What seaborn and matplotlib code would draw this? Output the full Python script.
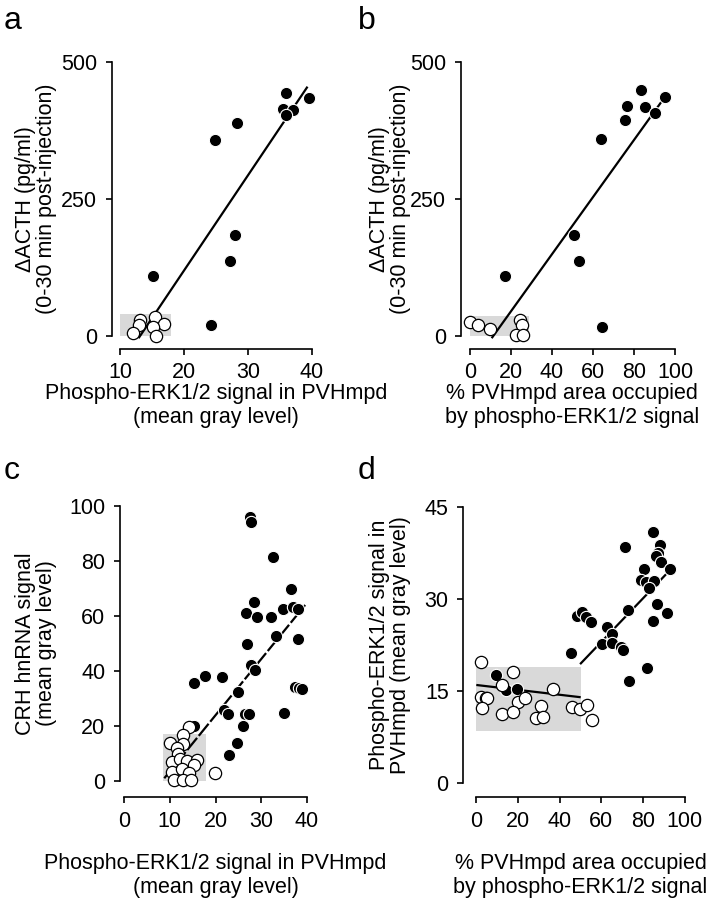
import matplotlib
matplotlib.use("Agg")
import matplotlib.pyplot as plt
from matplotlib.patches import Rectangle
import seaborn as sns

# ---- panel a: dACTH vs phospho-ERK gray level
a_filled_x = [36.0, 39.5, 35.5, 37.1, 35.9, 28.3, 24.9, 28.0, 27.2, 15.1, 24.2]
a_filled_y = [443, 435, 415, 412, 403, 388, 358, 184, 137, 109, 20]
a_open_x = [13.1, 15.4, 13.0, 16.9, 15.2, 12.0, 15.6]
a_open_y = [30, 34, 20, 22, 17, 6, 0]
a_fit_x = [12.9, 39.3]
a_fit_y = [-4, 455]
a_box = (10, 0, 18, 40)  # x0, y0, x1, y1

# ---- panel b: dACTH vs % area
b_filled_x = [83.3, 95.1, 76.5, 85.2, 90.3, 75.6, 63.8, 50.8, 53.2, 17.2, 64.6]
b_filled_y = [449, 437, 420, 417, 407, 394, 360, 184, 137, 109, 17]
b_open_x = [0.0, 4.0, 9.7, 24.5, 25.6, 22.7, 26.1]
b_open_y = [26, 20, 12, 30, 20, 2, 2]
b_fit_x = [10.7, 93.5]
b_fit_y = [-4, 428]
b_box = (0, 0, 29, 37)

# ---- panel c: CRH hnRNA vs phospho-ERK gray level
c_filled_x = [27.5, 27.8, 32.6, 36.4, 28.4, 26.6, 29.1, 32.1, 34.8, 37.0, 38.1,
              33.2, 38.0, 26.8, 27.7, 28.6, 37.4, 38.3, 38.8, 35.0, 25.0, 21.4,
              17.7, 15.2, 21.9, 22.8, 26.4, 27.4, 26.1, 24.6, 22.9, 15.2]
c_filled_y = [95.9, 94.3, 81.6, 69.7, 65.2, 61.2, 59.5, 59.5, 62.4, 63.4, 62.4,
              52.8, 51.8, 50.0, 42.2, 40.4, 34.3, 34.0, 33.3, 24.6, 32.5, 37.9,
              38.2, 35.5, 25.8, 24.5, 24.5, 24.4, 20.0, 13.7, 9.5, 20.0]
c_open_x = [14.1, 13.0, 10.1, 12.8, 11.5, 11.7, 10.4, 12.2, 13.7, 16.0, 15.2,
            10.6, 12.6, 14.1, 10.9, 12.8, 14.6, 19.9]
c_open_y = [19.7, 16.7, 13.7, 13.5, 11.9, 10.0, 7.0, 7.9, 7.4, 7.6, 5.8,
            3.4, 4.2, 2.8, 0.4, 0.4, 0.4, 3.0]
c_fit_x = [8.8, 39.6]
c_fit_y = [1, 64]
c_box = (8.6, 0, 18, 17)

# ---- panel d: phospho-ERK gray level vs % area
d_filled_x = [84.9, 71.2, 88.1, 87.0, 86.2, 88.8, 80.5, 93.0, 78.9, 81.3, 85.3,
              82.9, 86.6, 91.7, 84.8, 72.8, 48.2, 50.9, 52.5, 54.9, 62.9, 65.3,
              60.5, 65.3, 69.3, 70.5, 45.3, 81.8, 73.4, 9.3, 14.1, 19.7]
d_filled_y = [41.0, 38.5, 38.8, 37.5, 37.0, 36.1, 34.9, 34.9, 33.1, 32.8, 33.0,
              31.8, 29.2, 27.8, 26.4, 28.2, 27.2, 27.9, 27.1, 26.3, 25.4, 24.4,
              22.7, 22.8, 22.2, 21.7, 21.2, 18.7, 16.6, 17.6, 15.2, 15.3]
d_open_x = [2.4, 17.5, 12.2, 2.1, 4.5, 5.3, 2.9, 20.2, 23.4, 12.5, 17.8,
            30.9, 28.5, 32.1, 36.9, 46.1, 49.8, 53.3, 55.4]
d_open_y = [19.8, 18.1, 16.0, 14.1, 13.8, 13.8, 12.2, 13.3, 13.8, 11.3, 11.6,
            12.6, 10.6, 10.8, 15.3, 12.4, 12.0, 12.7, 10.3]
d_fit_x = [49.8, 94.5]
d_fit_y = [19.4, 35.3]
d_open_fit_x = [0, 50.1]
d_open_fit_y = [16.0, 14.0]
d_box = (0, 8.5, 50, 19)

label_erk = "Phospho-ERK1/2 signal in PVHmpd\n(mean gray level)"
label_area = "% PVHmpd area occupied\nby phospho-ERK1/2 signal"
label_acth = "\u0394ACTH (pg/ml)\n(0-30 min post-injection)"

sns.set_theme(style="ticks")
plt.rcParams['font.family'] = ['Liberation Sans', 'DejaVu Sans']
plt.rcParams.update({
    'font.size': 15.5,
    'text.color': 'black',
    'axes.labelcolor': 'black',
    'axes.edgecolor': 'black',
    'xtick.color': 'black',
    'ytick.color': 'black',
    'axes.linewidth': 1.2,
    'xtick.major.width': 1.2,
    'ytick.major.width': 1.2,
    'xtick.major.size': 4.5,
    'ytick.major.size': 4.5,
    'xtick.major.pad': 6,
    'ytick.major.pad': 6,
    'xtick.labelsize': 15.5,
    'ytick.labelsize': 15.5,
    'axes.labelsize': 15.5,
})

W, H = 709, 900
fig = plt.figure(figsize=(W / 100, H / 100), dpi=100)


def add_ax(x0, x1, ytop, ybot):
    return fig.add_axes([x0 / W, 1 - ybot / H, (x1 - x0) / W, (ybot - ytop) / H])


def draw_panel(ax, fx, fy, ox, oy, fits, box, xlim, ylim, xticks, yticks,
               xlabel, ylabel, left_off, bottom_off, xpad, letter, xtpad=6):
    ax.add_patch(Rectangle((box[0], box[1]), box[2] - box[0], box[3] - box[1],
                           facecolor="#d9d9d9", edgecolor="none", zorder=0))
    for (lx, ly, ls) in fits:
        ax.plot(lx, ly, color="black", lw=1.6, ls=ls, zorder=1,
                solid_capstyle="butt", clip_on=False)
    sns.scatterplot(x=fx, y=fy, ax=ax, color="black", edgecolor="white",
                    linewidth=0.8, s=78, zorder=2, clip_on=False)
    sns.scatterplot(x=ox, y=oy, ax=ax, color="white", edgecolor="black",
                    linewidth=0.9, s=78, zorder=3, clip_on=False)
    ax.set_xlim(*xlim)
    ax.set_ylim(*ylim)
    ax.set_xticks(xticks)
    ax.set_yticks(yticks)
    ax.tick_params(axis='x', pad=xtpad)
    sns.despine(ax=ax)
    ax.spines['left'].set_position(('outward', left_off))
    ax.spines['bottom'].set_position(('outward', bottom_off))
    ax.spines['left'].set_bounds(yticks[0], yticks[-1])
    ax.spines['bottom'].set_bounds(xticks[0], xticks[-1])
    ax.set_xlabel(xlabel, labelpad=xpad)
    ax.set_ylabel(ylabel, linespacing=1.0)
    ax.set_facecolor("none")
    ax.text(0, 0, letter, fontsize=23)
    return ax


ax_a = add_ax(120, 312, 62, 336)
draw_panel(ax_a, a_filled_x, a_filled_y, a_open_x, a_open_y,
           [(a_fit_x, a_fit_y, "-")], a_box, (10, 40), (0, 500),
           [10, 20, 30, 40], [0, 250, 500], label_erk, label_acth,
           5.8, 9.4, 0, "a", xtpad=4.5)

ax_b = add_ax(469.7, 675, 62, 336)
draw_panel(ax_b, b_filled_x, b_filled_y, b_open_x, b_open_y,
           [(b_fit_x, b_fit_y, "-")], b_box, (0, 100), (0, 500),
           [0, 20, 40, 60, 80, 100], [0, 250, 500], label_area, label_acth,
           6.3, 9.4, 0, "b", xtpad=4.5)

ax_c = add_ax(124, 307, 506, 781)
draw_panel(ax_c, c_filled_x, c_filled_y, c_open_x, c_open_y,
           [(c_fit_x, c_fit_y, (0, (7, 1.2)))], c_box, (0, 40), (0, 100),
           [0, 10, 20, 30, 40], [0, 20, 40, 60, 80, 100], label_erk,
           "CRH hnRNA signal\n(mean gray level)", 2.9, 11.3, 15, "c")

ax_d = add_ax(476.3, 684.7, 507.3, 783)
draw_panel(ax_d, d_filled_x, d_filled_y, d_open_x, d_open_y,
           [(d_fit_x, d_fit_y, "-"), (d_open_fit_x, d_open_fit_y, "-")],
           d_box, (0, 100), (0, 45), [0, 20, 40, 60, 80, 100], [0, 15, 30, 45],
           label_area, "Phospho-ERK1/2 signal in\nPVHmpd (mean gray level)",
           9.4, 9.9, 15, "d")

# y labels and panel letters at fixed spots relative to each column
for ax, col_x, letter_y in [(ax_a, 0, 5), (ax_b, 354, 5), (ax_c, 0, 455), (ax_d, 354, 455)]:
    pos = ax.get_position()
    ax.yaxis.set_label_coords((col_x + 57) / W, pos.y0 + pos.height / 2,
                              transform=fig.transFigure)
    ax.texts[0].set_transform(fig.transFigure)
    ax.texts[0].set_position(((col_x + 4) / W, 1 - (letter_y + 24) / H))

fig.savefig("out.png", dpi=100)
